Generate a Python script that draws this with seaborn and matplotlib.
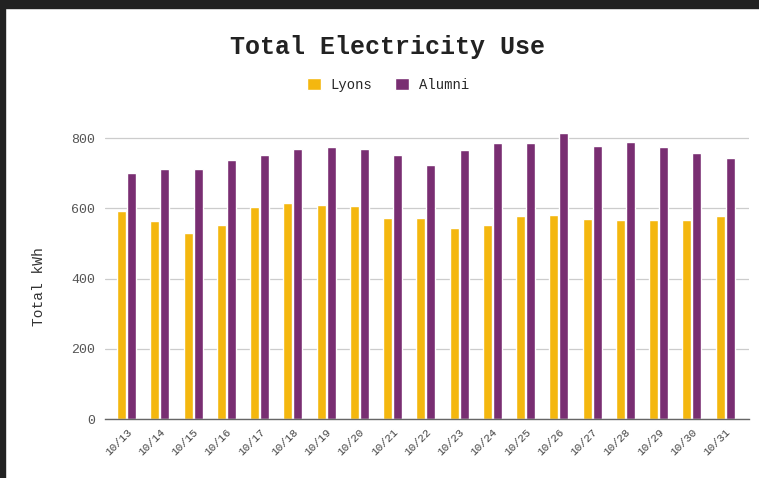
import pandas as pd
import matplotlib.pyplot as plt
import seaborn as sns
from matplotlib.patches import Rectangle

dates = ["10/13", "10/14", "10/15", "10/16", "10/17", "10/18", "10/19",
         "10/20", "10/21", "10/22", "10/23", "10/24", "10/25", "10/26",
         "10/27", "10/28", "10/29", "10/30", "10/31"]
lyons = [593, 564, 530, 553, 604, 615, 609, 607, 573, 573,
         544, 553, 578, 581, 570, 567, 567, 567, 578]
alumni = [701, 712, 712, 738, 752, 769, 775, 769, 752, 724,
          766, 786, 786, 815, 778, 789, 775, 758, 744]

df = pd.DataFrame({"date": dates * 2,
                   "kwh": lyons + alumni,
                   "building": ["Lyons"] * len(dates) + ["Alumni"] * len(dates)})

sns.set_theme(style="white")
mono = "Liberation Mono"
plt.rcParams["font.family"] = [mono, "DejaVu Sans"]

fig = plt.figure(figsize=(7.59, 4.78), dpi=100)
ax = fig.add_axes([105 / 759, 0.1234, (749 - 105) / 759, 0.617])

sns.barplot(data=df, x="date", y="kwh", hue="building",
            palette={"Lyons": "#F4B70F", "Alumni": "#792E72"},
            width=0.6, gap=0.1, ax=ax, legend=True, saturation=1)

ax.set_ylim(0, 840)
ax.set_xlim(-0.65, 18.72)
ax.set_yticks([0, 200, 400, 600, 800])
ax.yaxis.grid(True, color="#cccccc", linewidth=0.9)
ax.set_axisbelow(True)
for s in ["top", "right", "left"]:
    ax.spines[s].set_visible(False)
ax.spines["bottom"].set_color("#666666")
ax.spines["bottom"].set_linewidth(1.0)
ax.tick_params(axis="y", labelsize=9.5, labelcolor="#555555", length=0, pad=7)
ax.tick_params(axis="x", labelsize=8, labelcolor="#444444", length=0, pad=6)
plt.setp(ax.get_xticklabels(), rotation=45, ha="right", rotation_mode="anchor")
ax.set_xlabel("")
ax.set_ylabel("Total kWh", fontsize=10.5, color="#333333")
ax.yaxis.set_label_coords(-0.092, 0.45)

handles, labels = ax.get_legend_handles_labels()
ax.get_legend().remove()
fig.legend(handles, labels, loc="center", bbox_to_anchor=(388 / 759, 1 - 85 / 478),
           ncol=2, frameon=False, fontsize=10, handlelength=1.0, handleheight=1.0,
           columnspacing=1.6, handletextpad=0.7)

fig.text(388 / 759, 1 - 47 / 478, "Total Electricity Use", ha="center", va="center",
         fontsize=18, fontweight="bold", color="#222222")

# dark screenshot frame
fig.patches.append(Rectangle((0, 1 - 8 / 478), 1, 8 / 478, transform=fig.transFigure,
                             color="#222222", zorder=10))
fig.patches.append(Rectangle((0, 0), 5 / 759, 1, transform=fig.transFigure,
                             color="#222222", zorder=10))

fig.savefig("out.png", dpi=100)
